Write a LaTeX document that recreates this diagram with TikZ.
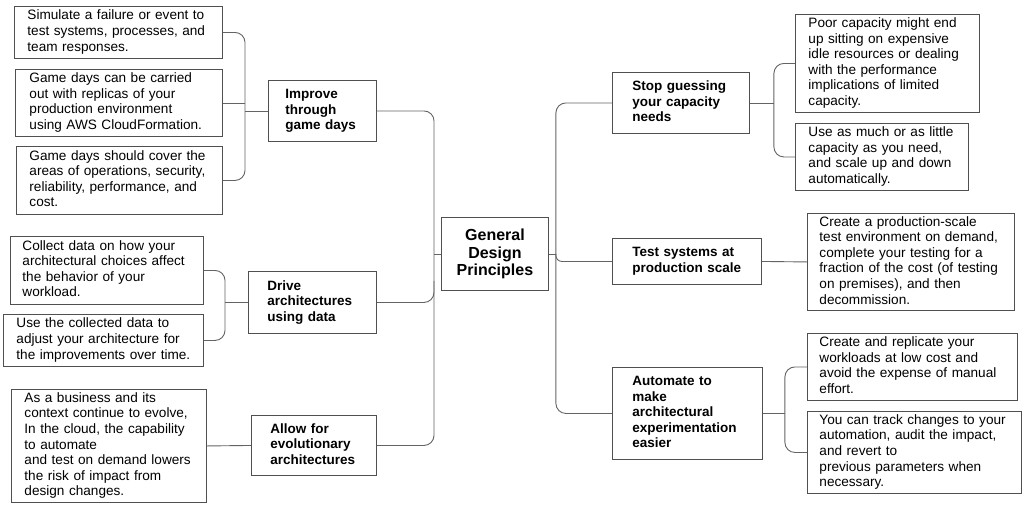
\documentclass[tikz,border=0pt]{standalone}
\usepackage{fontspec}
\setmainfont{Liberation Sans}
\usetikzlibrary{calc}
\newcommand{\lns}[1]{\noindent\begin{tabular}{@{}l@{}}#1\end{tabular}}
\definecolor{boxc}{RGB}{80,80,80}
\definecolor{linec}{RGB}{100,100,100}
\begin{document}
\begin{tikzpicture}[x=1pt,y=-1pt,
  box/.style={draw=boxc, line width=0.9pt, anchor=north west, align=left, inner ysep=0pt},
  leaf/.style={box, font=\fontsize{13.6}{15.6}\selectfont},
  branch/.style={box, font=\fontsize{13.5}{15.5}\selectfont\bfseries},
  conn/.style={draw=linec, line width=0.9pt, rounded corners=10pt}]
\useasboundingbox (0,0) rectangle (1024,506);
\fill[white] (0,0) rectangle (1024,506);

% centre
\node[box, align=center, inner xsep=0pt, minimum width=107pt, minimum height=73pt,
      font=\fontsize{16}{17.5}\selectfont\bfseries] (Center) at (441,217) {General\\Design\\Principles};

% left branches
\node[branch, text width=74pt, inner xsep=17pt, minimum height=61pt] (Improve) at (268,80) {\lns{Improve\\through\\game days}};
\node[branch, text width=90pt, inner xsep=19pt, minimum height=62pt] (Drive) at (248,271) {\lns{Drive\\architectures\\using data}};
\node[branch, text width=87pt, inner xsep=19pt, minimum height=60pt] (Allow) at (251,415) {\lns{Allow for\\evolutionary\\architectures}};

% right branches
\node[branch, text width=97pt, inner xsep=20pt, minimum height=61pt] (Stop) at (612,72) {\lns{Stop guessing\\your capacity\\needs}};
\node[branch, text width=109pt, inner xsep=20pt, minimum height=46pt] (Test) at (612,238) {\lns{Test systems at\\production scale}};
\node[branch, text width=110pt, inner xsep=20pt, minimum height=92pt] (Auto) at (612,367) {\lns{Automate to\\make\\architectural\\experimentation\\easier}};

% left leaves
\node[leaf, text width=182pt, inner xsep=13pt, minimum height=52pt] (L1) at (14,6) {\lns{Simulate a failure or event to\\test systems, processes, and\\team responses.}};
\node[leaf, text width=179pt, inner xsep=14pt, minimum height=67pt] (L2) at (15,69) {\lns{Game days can be carried\\out with replicas of your\\production environment\\using AWS CloudFormation.}};
\node[leaf, text width=180pt, inner xsep=13pt, minimum height=68pt] (L3) at (16,146) {\lns{Game days should cover the\\areas of operations, security,\\reliability, performance, and\\cost.}};
\node[leaf, text width=169pt, inner xsep=12pt, minimum height=68pt] (D1) at (10,236) {\lns{Collect data on how your\\architectural choices affect\\the behavior of your\\workload.}};
\node[leaf, text width=174pt, inner xsep=13pt, minimum height=52pt] (D2) at (3,314) {\lns{Use the collected data to\\adjust your architecture for\\the improvements over time.}};
\node[leaf, text width=169pt, inner xsep=13pt, minimum height=113pt] (E) at (11,389) {\lns{As a business and its\\context continue to evolve,\\In the cloud, the capability\\to automate\\and test on demand lowers\\the risk of impact from\\design changes.}};

% right leaves
\node[leaf, text width=158pt, inner xsep=13pt, minimum height=98pt] (SG1) at (795,14) {\lns{Poor capacity might end\\up sitting on expensive\\idle resources or dealing\\with the performance\\implications of limited\\capacity.}};
\node[leaf, text width=147pt, inner xsep=13pt, minimum height=67pt] (SG2) at (795,123) {\lns{Use as much or as little\\capacity as you need,\\and scale up and down\\automatically.}};
\node[leaf, text width=183pt, inner xsep=12pt, minimum height=97pt] (TL) at (807,213) {\lns{Create a production-scale\\test environment on demand,\\complete your testing for a\\fraction of the cost (of testing\\on premises), and then\\decommission.}};
\node[leaf, text width=186pt, inner xsep=12pt, minimum height=67pt] (A1) at (807,333) {\lns{Create and replicate your\\workloads at low cost and\\avoid the expense of manual\\effort.}};
\node[leaf, text width=190pt, inner xsep=12pt, minimum height=82pt] (A2) at (807,411) {\lns{You can track changes to your\\automation, audit the impact,\\and revert to\\previous parameters when\\necessary.}};

% junction coordinates
\path (Improve.west) ++(-23,0) coordinate (sL1);
\path (Drive.west) ++(-23,0) coordinate (sL2);
\path (Center.west) ++(-7,0) coordinate (cL);
\path (Center.east) ++(7,0) coordinate (cR);
\path (Stop.east) ++(24,0) coordinate (sR1);
\path (Auto.east) ++(22,0) coordinate (sR3);

% connectors left
\draw[conn] (L1.east) -| (sL1) |- (L3.east);
\draw[conn] (L2.east) -- (L2.east -| sL1);
\draw[conn] (sL1) -- (Improve.west);
\draw[conn] (D1.east) -| (sL2) |- (D2.east);
\draw[conn] (sL2) -- (Drive.west);
\draw[conn] (E.east) -- (Allow.west);
\draw[conn] (Improve.east) -| (cL) |- (Allow.east);
\draw[conn] (Drive.east) -| ($(cL)+(0,27)$);
\draw[conn] (cL) -- (Center.west);

% connectors right
\draw[conn] (Center.east) -- (cR);
\draw[conn] (Stop.west) -| (cR) |- (Auto.west);
\draw[conn, rounded corners=6pt] (cR) |- (Test.west);
\draw[conn] (SG1.west) -| (sR1) |- (SG2.west);
\draw[conn] (Stop.east) -- (sR1);
\draw[conn] (Test.east) -- (TL.west);
\draw[conn] (A1.west) -| (sR3) |- (A2.west);
\draw[conn] (Auto.east) -- (sR3);
\end{tikzpicture}
\end{document}
